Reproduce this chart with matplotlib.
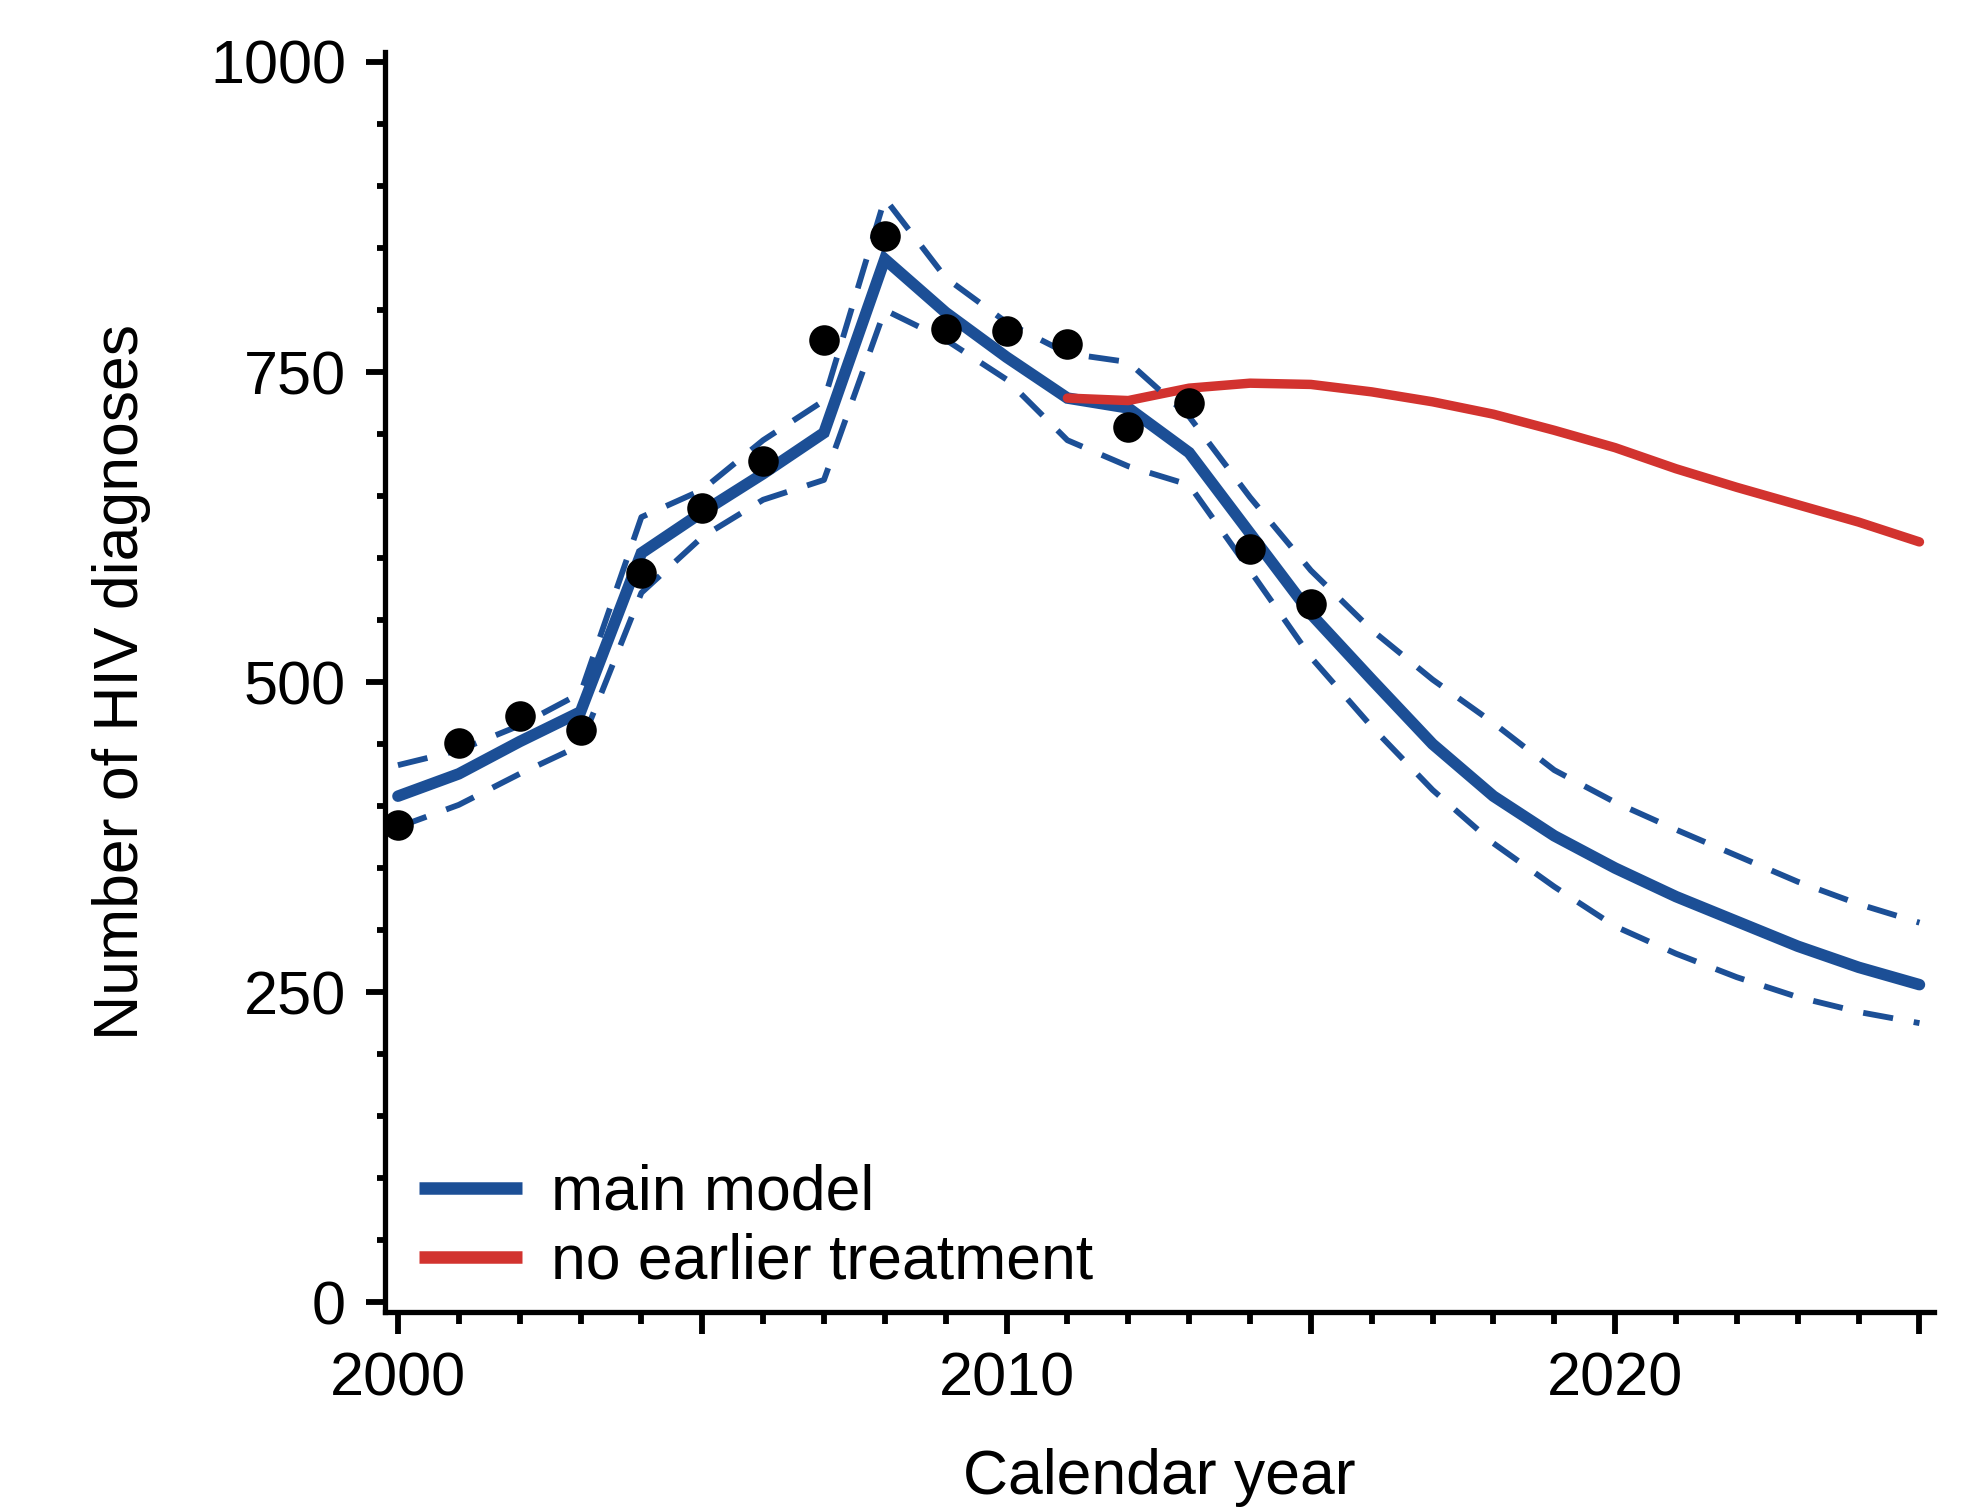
import numpy as np
import matplotlib
matplotlib.use("Agg")
import matplotlib.pyplot as plt
from matplotlib.ticker import FixedLocator, MultipleLocator, FuncFormatter

plt.rcParams["font.family"] = ["Liberation Sans", "DejaVu Sans"]

# model projections, one value per calendar year
years = np.arange(2000, 2026)
main_model = [408, 426, 452, 476, 604, 637, 668, 701, 841, 798, 762, 729, 721,
              685, 620, 555, 502, 450, 408, 376, 350, 327, 307, 287, 270, 256]
main_upper = [433, 445, 465, 491, 633, 655, 695, 727, 890, 826, 790, 765, 758,
              714, 649, 590, 542, 502, 467, 429, 403, 381, 360, 339, 321, 306]
main_lower = [383, 401, 426, 449, 572, 617, 647, 663, 800, 776, 744, 695, 674,
              659, 590, 520, 464, 413, 370, 335, 303, 281, 262, 246, 234, 225]

# counterfactual scenario, diverges from 2011
cf_years = np.arange(2011, 2026)
no_early_tx = [729, 727, 737, 741, 740, 734, 726, 716, 703, 689, 672, 657,
               643, 629, 613]

# observed diagnoses
obs_years = np.arange(2000, 2016)
observed = [385, 451, 473, 461, 588, 640, 678, 776, 860, 785, 783, 773, 706,
            725, 607, 563]

blue = "#1c4f96"
red = "#d2332f"

fig = plt.figure(figsize=(19.79, 15.09), dpi=100)
ax = fig.add_axes([0.1945, 0.1305, 0.7828, 0.835])

ax.plot(years, main_model, color=blue, lw=8.3, solid_capstyle="round",
        solid_joinstyle="miter", label="main model", zorder=2)
ax.plot(cf_years, no_early_tx, color=red, lw=6.8, solid_capstyle="round",
        label="no earlier treatment", zorder=3)
for band in (main_upper, main_lower):
    ln, = ax.plot(years, band, color=blue, lw=4.2, zorder=4)
    ln.set_dashes((5.2, 3.6))
ax.plot(obs_years, observed, "o", color="black", ms=22, mec="none", zorder=5)

ax.set_xlim(1999.786, 2025.24)
ax.set_ylim(-8, 1008)

for side in ("top", "right"):
    ax.spines[side].set_visible(False)
for side in ("left", "bottom"):
    ax.spines[side].set_linewidth(3.8)

ax.xaxis.set_major_locator(FixedLocator([2000, 2005, 2010, 2015, 2020, 2025]))
ax.xaxis.set_major_formatter(
    FuncFormatter(lambda v, p: f"{int(v)}" if int(v) % 10 == 0 else ""))
ax.xaxis.set_minor_locator(MultipleLocator(1))
ax.yaxis.set_major_locator(MultipleLocator(250))
ax.yaxis.set_minor_locator(MultipleLocator(50))

ax.tick_params(axis="x", which="major", length=15.6, width=4.2, pad=13,
               labelsize=44)
ax.tick_params(axis="x", which="minor", length=8.4, width=4.2)
ax.tick_params(axis="y", which="major", length=14, width=4.2, pad=14,
               labelsize=44)
ax.tick_params(axis="y", which="minor", length=6, width=4.2)

ax.set_xlabel("Calendar year", fontsize=45, va="baseline")
ax.xaxis.set_label_coords(0.5, -0.1445)
ax.set_ylabel("Number of HIV diagnoses", fontsize=45, va="center")
ax.yaxis.set_label_coords(-0.170, 0.5)

leg = ax.legend(loc="lower left", bbox_to_anchor=(0.022, 0.016),
                frameon=False, fontsize=45, handlelength=1.65,
                handletextpad=0.47, labelspacing=0.16, borderpad=0,
                borderaxespad=0)
for handle in leg.get_lines():
    handle.set_linewidth(9)
    handle.set_solid_capstyle("butt")

fig.savefig("out.png", dpi=100, facecolor="white")
